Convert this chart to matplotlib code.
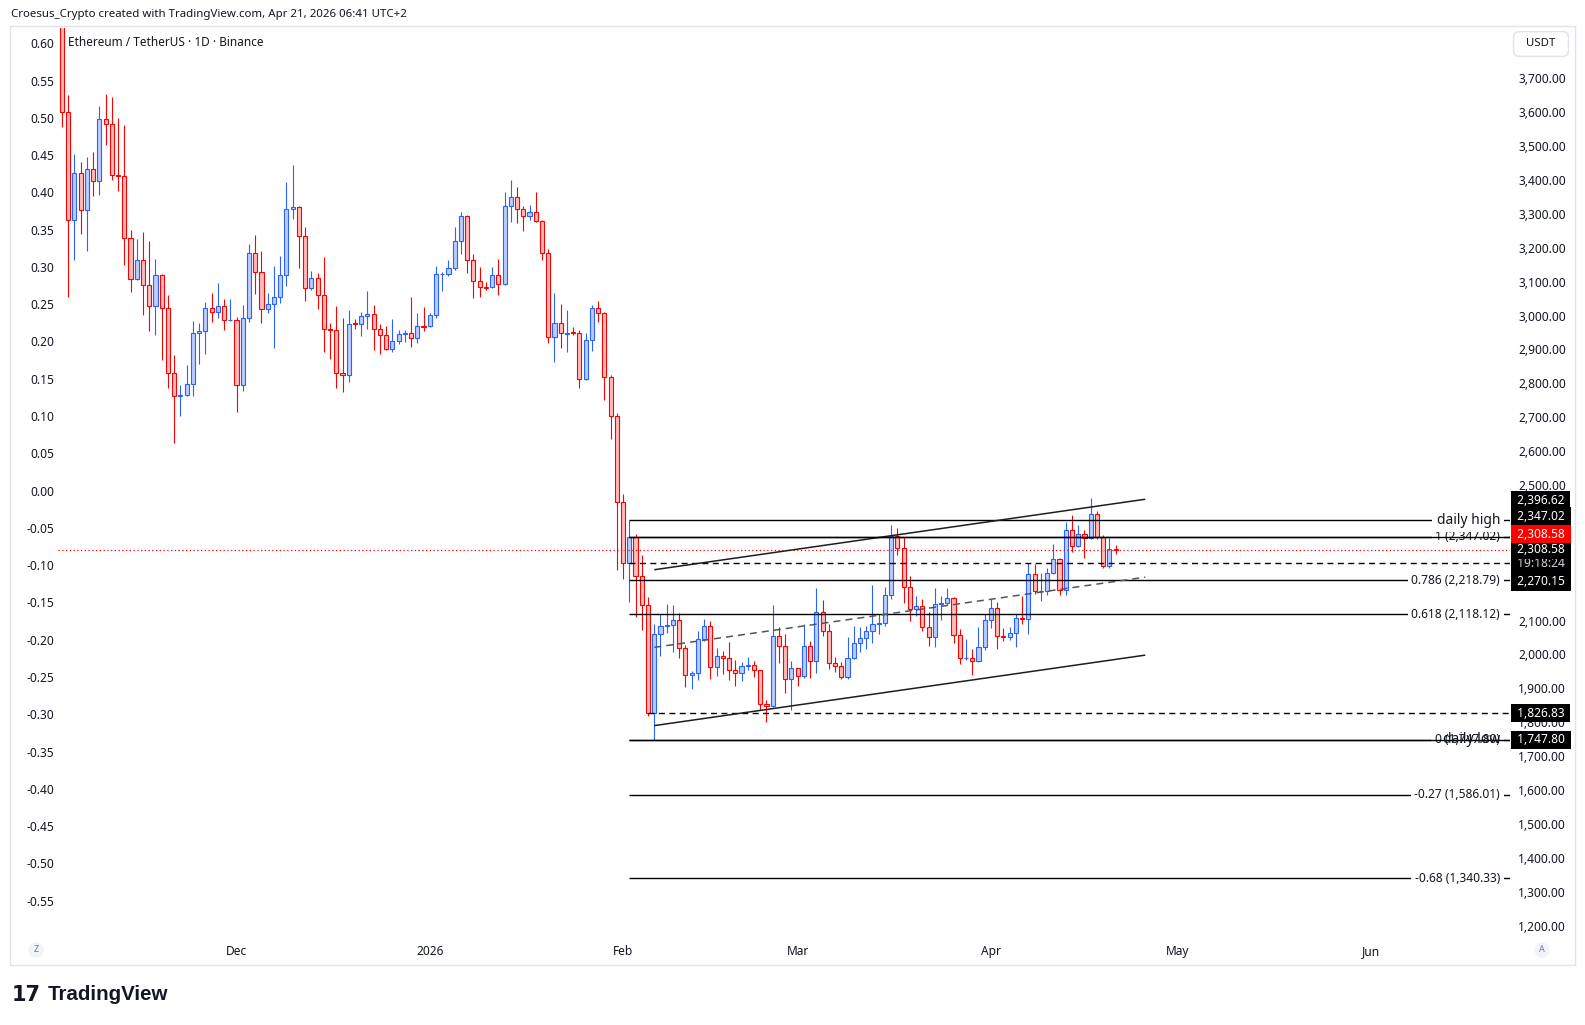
import numpy as np
import matplotlib
matplotlib.use("Agg")
import matplotlib.pyplot as plt
import matplotlib.dates as mdates
import matplotlib.transforms as mtransforms
import matplotlib.patches as mpatches
from matplotlib.ticker import FuncFormatter

plt.rcParams['font.family'] = ['Noto Sans', 'DejaVu Sans']

# ---------------- data (ETH/USDT daily, Binance) ----------------
first_day = '2025-11-03'

opens = [
    # Nov
    3907, 3600, 3281, 3420, 3310, 3431, 3396, 3579, 3564, 3414, 3411, 3228, 3107, 3163,
    3089, 3027, 3119, 3021, 2830, 2763, 2766, 2797, 2948, 2954, 3021, 3010, 3027, 2986,
    # Dec
    2988, 2794, 2992, 3184, 3128, 3018, 3033, 3054, 3119, 3313, 3319, 3234, 3080, 3110, 3060, 2959,
    2957, 2830, 2824, 2977, 2974, 2998, 3004, 2959, 2942, 2900, 2924, 2945, 2948, 2933, 2970,
    # Jan
    2968, 3001, 3122, 3124, 3139, 3219, 3293, 3163, 3101, 3084, 3083, 3119, 3092, 3322, 3349, 3313,
    3293, 3305, 3278, 3184, 2936, 2977, 2946, 2951, 2948, 2812, 2927, 3021, 3007, 2818, 2703,
    # Feb
    2449, 2270.15, 2347.02, 2231, 2145, 1826.83, 2060, 2083, 2087, 2101, 2018, 1938, 1944, 2045,
    2083, 1962, 1994, 1989, 1953, 1944, 1965, 1968, 1953, 1853, 1847, 2054, 2024, 1927,
    # Mar
    1959, 1935, 2024, 1980, 2124, 2068, 1974, 1965, 1933, 1989, 2033, 2048, 2068, 2089, 2092, 2174,
    2349, 2313, 2198, 2133, 2142, 2080, 2051, 2148, 2151, 2166, 2056, 1989, 1991, 1980, 2021,
    # Apr
    2101, 2136, 2054, 2051, 2062, 2107, 2104, 2236, 2186, 2188, 2239, 2281, 2189, 2366, 2319, 2354,
    2343, 2413, 2346, 2260, 2312,
]
highs = [
    3918, 3652, 3477, 3453, 3468, 3482, 3618, 3654, 3645, 3583, 3562, 3252, 3227, 3246,
    3220, 3168, 3122, 3061, 2883, 2795, 2854, 2984, 2978, 3040, 3066, 3095, 3049, 3049,
    2995, 3031, 3211, 3238, 3190, 3066, 3146, 3175, 3394, 3444, 3322, 3261, 3131, 3125, 3172, 2978,
    3028, 2992, 3016, 2989, 3010, 3072, 3031, 2975, 2969, 2990, 2956, 2956, 3055, 3007, 3025,
    3007, 3146, 3130, 3163, 3261, 3305, 3296, 3181, 3142, 3098, 3142, 3166, 3364, 3399, 3378, 3322,
    3325, 3364, 3281, 3195, 3066, 3033, 3015, 2965, 2956, 2948, 3030, 3042, 3010, 2824, 2711,
    2472, 2396.62, 2354, 2293, 2169, 2089, 2118, 2148, 2145, 2121, 2027, 1950, 2068, 2104,
    2098, 2018, 2009, 2036, 1983, 1977, 1992, 1980, 1955, 1865, 2145, 2080, 2060, 1980,
    1961, 2090, 2039, 2195, 2160, 2089, 1992, 1977, 2051, 2083, 2080, 2083, 2204, 2118, 2198, 2381,
    2372, 2346, 2231, 2172, 2163, 2124, 2195, 2172, 2195, 2169, 2074, 2045, 2015, 2080, 2118,
    2163, 2154, 2077, 2080, 2118, 2172, 2269, 2266, 2240, 2254, 2325, 2284, 2390, 2411, 2381, 2366,
    2461, 2422, 2352, 2343, 2322,
]
lows = [
    3555, 3054, 3165, 3241, 3191, 3354, 3357, 3504, 3401, 3368, 3150, 3069, 3104, 3002,
    2955, 2943, 2870, 2787, 2624, 2703, 2764, 2763, 2856, 2886, 2982, 2992, 2958, 2984,
    2714, 2778, 2982, 3064, 2979, 3008, 2905, 3038, 3088, 3286, 3141, 3044, 3076, 3020, 2891, 2872,
    2787, 2773, 2805, 2961, 2940, 2961, 2899, 2886, 2898, 2891, 2915, 2923, 2908, 2918, 2955,
    2966, 2992, 3073, 3116, 3133, 3181, 3125, 3053, 3056, 3076, 3081, 3061, 3089, 3277, 3272, 3250,
    3281, 3276, 3163, 2918, 2864, 2903, 2891, 2942, 2785, 2810, 2896, 2982, 2752, 2635, 2248,
    2222, 2156, 2110, 2073, 1817, 1747.80, 1994, 2062, 2006, 1989, 1903, 1897, 1924, 2039,
    1927, 1935, 1941, 1924, 1906, 1921, 1953, 1933, 1835, 1800, 1845, 1974, 1885, 1835,
    1906, 1930, 1930, 1944, 2054, 1956, 1947, 1927, 1927, 1987, 2006, 2015, 2033, 2060, 2083, 2163,
    2293, 2151, 2098, 2113, 2068, 2024, 2021, 2101, 2145, 2033, 1971, 1983, 1938, 1978, 2012,
    2077, 2015, 2039, 2042, 2021, 2089, 2060, 2177, 2157, 2174, 2237, 2174, 2174, 2301, 2317, 2284,
    2341, 2340, 2254, 2254, 2295,
]
closes = [
    3600, 3281, 3420, 3310, 3431, 3396, 3579, 3564, 3414, 3411, 3228, 3107, 3163, 3089,
    3027, 3119, 3021, 2830, 2763, 2766, 2797, 2948, 2954, 3021, 3010, 3027, 2986, 2988,
    2794, 2992, 3184, 3128, 3018, 3033, 3054, 3119, 3313, 3319, 3234, 3080, 3110, 3060, 2959, 2957,
    2830, 2824, 2974, 2974, 2998, 3004, 2959, 2942, 2900, 2924, 2945, 2948, 2933, 2968, 2967,
    3001, 3122, 3124, 3139, 3219, 3293, 3163, 3101, 3083, 3082, 3119, 3092, 3322, 3349, 3313, 3293,
    3305, 3278, 3184, 2936, 2977, 2948, 2950, 2948, 2812, 2927, 3021, 3007, 2818, 2703, 2449,
    2270.15, 2347.02, 2231, 2145, 1826.83, 2060, 2083, 2087, 2101, 2018, 1938, 1944, 2045, 2083,
    1962, 1994, 1989, 1953, 1944, 1965, 1968, 1953, 1853, 1847, 2054, 2024, 1927, 1959,
    1935, 2024, 1980, 2124, 2068, 1974, 1965, 1933, 1989, 2033, 2048, 2068, 2089, 2092, 2174, 2349,
    2313, 2198, 2133, 2142, 2080, 2051, 2148, 2151, 2166, 2056, 1989, 1991, 1980, 2021, 2101,
    2136, 2054, 2051, 2062, 2107, 2104, 2236, 2186, 2188, 2239, 2281, 2189, 2366, 2319, 2354, 2343,
    2413, 2346, 2260, 2312, 2308.58,
]

fib_ratios = ['1', '0.786', '0.618', '0', '-0.27', '-0.68']
fib_prices = [2347.02, 2218.79, 2118.12, 1747.80, 1586.01, 1340.33]
fib_start = '2026-02-02'
daily_high = 2396.62
daily_low = 1747.80
ray_level = 2347.02
dashed_levels = [2270.15, 1826.83]
dashed_starts = ['2026-02-02', '2026-02-05']
last_price = 2308.58
countdown = '19:18:24'
channel_dates = ['2026-02-06T00:00', '2026-04-25T18:00']
channel_upper = [2250, 2458]
channel_mid = [2021, 2228]
channel_lower = [1790, 1998]

price_ticks = [1200, 1300, 1400, 1500, 1600, 1700, 1800, 1900, 2000, 2100,
               2500, 2600, 2700, 2800, 2900, 3000, 3100, 3200, 3300, 3400, 3500, 3600, 3700]
left_ticks = [0.60, 0.55, 0.50, 0.45, 0.40, 0.35, 0.30, 0.25, 0.20, 0.15, 0.10, 0.05, 0.00,
              -0.05, -0.10, -0.15, -0.20, -0.25, -0.30, -0.35, -0.40, -0.45, -0.50, -0.55]
month_ticks = ['2025-12-01', '2026-01-01', '2026-02-01', '2026-03-01',
               '2026-04-01', '2026-05-01', '2026-06-01']
month_labels = ['Dec', '2026', 'Feb', 'Mar', 'Apr', 'May', 'Jun']

# ---------------- styling ----------------
BLUE, BLUE_FILL = '#2962ff', '#bccdfe'
RED, RED_FILL = '#ff0000', '#ffbcbc'
TXT = '#131722'
FS = 8.6

W, H = 1585, 1025
fig = plt.figure(figsize=(W / 100, H / 100), dpi=100)
fig.patch.set_facecolor('white')

L_PX, R_PX, T_PX, B_PX = 58, 1510, 28, 935
ax = fig.add_axes([L_PX / W, 1 - B_PX / H, (R_PX - L_PX) / W, (B_PX - T_PX) / H])
ax.set_facecolor('white')

o = np.array(opens, float)
h = np.array(highs, float)
l = np.array(lows, float)
c = np.array(closes, float)
x = mdates.date2num(np.datetime64(first_day) + np.arange(len(o)))

def dnum(s):
    return mdates.date2num(np.datetime64(s))

dec1 = dnum('2025-12-01')
ax.set_xlim(dec1 - 28.63, dec1 + 204.25)
ax.set_ylim(1172.2, 3848.5)
xmax = ax.get_xlim()[1]

up = c >= o
edge = np.where(up, BLUE, RED)
fill = np.where(up, BLUE_FILL, RED_FILL)
ax.vlines(x, l, h, colors=edge, linewidth=0.8, zorder=2)
ax.bar(x, np.abs(c - o), bottom=np.minimum(o, c), width=0.66, color=fill,
       edgecolor=edge, linewidth=0.8, zorder=3)

# channel
cd = [dnum(s) for s in channel_dates]
ax.plot(cd, channel_upper, color='#1e1e1e', lw=1.1, zorder=6, solid_capstyle='butt')
ax.plot(cd, channel_lower, color='#1e1e1e', lw=1.1, zorder=6, solid_capstyle='butt')
ax.plot(cd, channel_mid, color='#555555', lw=1.1, ls=(0, (4.6, 3.3)), zorder=6)

trans = mtransforms.blended_transform_factory(ax.transAxes, ax.transData)

# fib levels
fs_num = dnum(fib_start)
ax.hlines(fib_prices, fs_num, xmax, colors='black', lw=1.0, zorder=4)
for r, p in zip(fib_ratios, fib_prices):
    ax.annotate(f"{r} ({p:,.2f})", xy=(1, p), xycoords=trans, xytext=(-10, 0),
                textcoords='offset pixels', ha='right', va='center', fontsize=FS, color=TXT,
                bbox=dict(boxstyle='square,pad=0.3', fc='white', ec='none'),
                annotation_clip=False, zorder=5)

# horizontal rays
ax.hlines([ray_level, daily_low], fs_num, xmax, colors='black', lw=1.0, zorder=6)
ax.hlines(daily_high, fs_num, xmax, colors='black', lw=1.0, zorder=4)
ax.annotate('daily high', xy=(1, daily_high), xycoords=trans, xytext=(-10, 0),
            textcoords='offset pixels', ha='right', va='center', fontsize=10, color=TXT,
            bbox=dict(boxstyle='square,pad=0.3', fc='white', ec='none'),
            annotation_clip=False, zorder=7)
ax.annotate('daily low', xy=(1, daily_low), xycoords=trans, xytext=(-10, 0),
            textcoords='offset pixels', ha='right', va='center', fontsize=10, color=TXT,
            annotation_clip=False, zorder=7)

for lv, st in zip(dashed_levels, dashed_starts):
    ax.hlines(lv, dnum(st), xmax, colors='black', lw=1.0, linestyles=[(0, (4.3, 3.2))], zorder=4)

ax.axhline(last_price, color=RED, lw=0.9, ls=(0, (1, 2)), zorder=4)

# price scale labels
def scale_label(price, text, dy, fc='black', color='white'):
    ax.annotate(text, xy=(1, price), xycoords=trans, xytext=(4, dy),
                textcoords='offset pixels', ha='left', va='center', fontsize=FS, color=color,
                bbox=dict(boxstyle='square,pad=0.22', fc=fc, ec='none'),
                annotation_clip=False, zorder=10)

scale_label(daily_high, f" {daily_high:,.2f} ", 19.5)
scale_label(ray_level, f" {ray_level:,.2f} ", 20.3)
scale_label(dashed_levels[0], f" {dashed_levels[0]:,.2f} ", -18.6)
scale_label(dashed_levels[1], f" {dashed_levels[1]:,.2f} ", 0)
scale_label(daily_low, f" {daily_low:,.2f} ", 0)
scale_label(last_price, f" {countdown} ", -14, color='#d1d4dc')
scale_label(last_price, f" {last_price:,.2f} ", 0)
scale_label(last_price, f" {last_price:,.2f} ", 15.6, fc=RED)

# axes / ticks
for s in ax.spines.values():
    s.set_visible(False)
ax.yaxis.tick_right()
ax.set_yticks(price_ticks)
ax.yaxis.set_major_formatter(FuncFormatter(lambda v, _: f"{v:,.2f}"))
ax.tick_params(axis='y', length=0, pad=5.8, labelsize=FS, labelcolor=TXT)
ax.set_xticks([dnum(m) for m in month_ticks])
ax.set_xticklabels(month_labels)
ax.tick_params(axis='x', length=0, pad=7.5, labelsize=FS, labelcolor=TXT)
ax.get_xticklabels()[1].set_fontweight('bold')

secax = ax.secondary_yaxis('left', functions=(lambda p: (p - 2483.5) / 2200.0,
                                              lambda v: v * 2200.0 + 2483.5))
secax.set_yticks(left_ticks)
secax.yaxis.set_major_formatter(FuncFormatter(lambda v, _: f"{round(v, 2) + 0.0:.2f}"))
secax.tick_params(axis='y', length=0, pad=3, labelsize=FS, labelcolor=TXT)
for s in secax.spines.values():
    s.set_visible(False)

# decorations
fig.add_artist(mpatches.Rectangle((10 / W, 1 - 965 / H), (1575 - 10) / W, (965 - 26) / H,
                                  transform=fig.transFigure, fill=False, ec='#e0e3eb', lw=1.0))
fig.text(11 / W, 1 - 14 / H, 'Croesus_Crypto created with TradingView.com, Apr 21, 2026 06:41 UTC+2',
         fontsize=8.25, va='center', ha='left', color=TXT)
fig.text(68 / W, 1 - 42 / H, 'Ethereum / TetherUS · 1D · Binance', fontsize=8.5,
         va='center', ha='left', color=TXT)
fig.text(1541 / W, 1 - 44 / H, '  USDT  ', ha='center', va='center', fontsize=8.2, color=TXT,
         bbox=dict(boxstyle='round,pad=0.6,rounding_size=0.5', fc='white', ec='#e0e3eb', lw=1))
fig.text(36 / W, 1 - 950 / H, 'Z', ha='center', va='center', fontsize=6.5, color='#787b86',
         bbox=dict(boxstyle='circle,pad=0.35', fc='#f0f3fa', ec='none'))
fig.text(1542 / W, 1 - 950 / H, 'A', ha='center', va='center', fontsize=6.5, color='#787b86',
         bbox=dict(boxstyle='circle,pad=0.35', fc='#f0f3fa', ec='none'))
fig.text(12 / W, 1 - 995 / H, '17', ha='left', va='center', fontsize=15, fontweight='heavy',
         family='DejaVu Sans', color='#131722')
fig.text(48 / W, 1 - 995 / H, 'TradingView', ha='left', va='center', fontsize=14.8,
         fontweight='bold', family=['Liberation Sans', 'DejaVu Sans'], color='#131722')

fig.savefig('out.png', dpi=100)
